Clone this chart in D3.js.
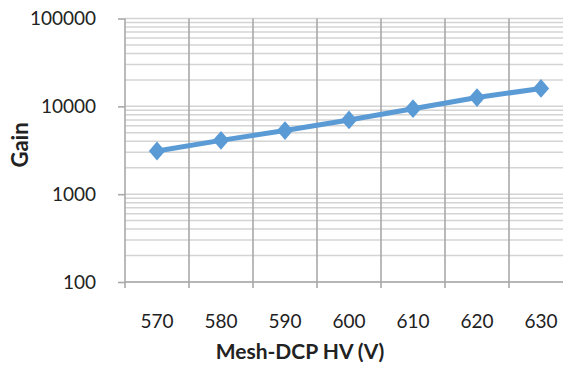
<!DOCTYPE html>
<html><head><meta charset="utf-8">
<script src="https://cdn.jsdelivr.net/npm/d3@7"></script>
<style>html,body{margin:0;padding:0;background:#fff;overflow:hidden}</style>
</head><body>
<svg id="c" width="563" height="365"></svg>
<script>
const categories = ["570","580","590","600","610","620","630"];
const gain = [3100, 4100, 5300, 7000, 9400, 12600, 16000];
const yTicks = [100, 1000, 10000, 100000];

(function () {
const svg = d3.select("#c");
const pl = 125, pr = 573, pt = 18.5, pb = 282;
const x = d3.scaleBand().domain(categories).range([pl, pr]);
const y = d3.scaleLog().domain([100, 100000]).range([pb, pt]);
const font = "Lato, 'Open Sans', sans-serif";

// minor horizontal gridlines
const minor = [];
for (let d = 100; d < 100000; d *= 10) for (let k = 1; k <= 9; k++) minor.push(d * k);
minor.push(100000);
svg.append("g").selectAll("line").data(minor).join("line")
  .attr("x1", pl).attr("x2", pr)
  .attr("y1", d => y(d)).attr("y2", d => y(d))
  .attr("stroke", "#d4d4d4").attr("stroke-width", 1.5);

// vertical gridlines (category boundaries)
const bounds = categories.map(c => x(c)).concat([x(categories[categories.length-1]) + x.bandwidth()]);
svg.append("g").selectAll("line").data(bounds.slice(1)).join("line")
  .attr("x1", d => d).attr("x2", d => d)
  .attr("y1", pt).attr("y2", pb + 6)
  .attr("stroke", "#a9a9a9").attr("stroke-width", 1.6);

// y axis
const yAxis = d3.axisLeft(y).tickValues(yTicks).tickFormat(d3.format("d")).tickSize(7).tickPadding(22);
const ga = svg.append("g").attr("transform", `translate(${pl},0)`).call(yAxis);
ga.select(".domain").attr("stroke", "#a9a9a9").attr("stroke-width", 1.6).attr("d", `M0,${pt}V${pb}`);
ga.selectAll(".tick line").attr("stroke", "#a9a9a9").attr("stroke-width", 1.6);
ga.selectAll(".tick text").attr("font-family", font).attr("font-size", 19).attr("fill", "#222");

// x axis
const xAxis = d3.axisBottom(x).tickSize(0).tickPadding(33);
const gx = svg.append("g").attr("transform", `translate(0,${pb})`).call(xAxis);
gx.select(".domain").attr("stroke", "#a9a9a9").attr("stroke-width", 1.6).attr("d", `M${pl},0H${pr}`);
gx.selectAll(".tick text").attr("font-family", font).attr("font-size", 19).attr("fill", "#222");
svg.append("line").attr("x1", pl).attr("x2", pl).attr("y1", pb).attr("y2", pb + 6)
  .attr("stroke", "#a9a9a9").attr("stroke-width", 1.6);

// line
const cx = c => x(c) + x.bandwidth() / 2;
const pts = categories.map((c, i) => [cx(c), y(gain[i])]);
svg.append("path").attr("d", d3.line()(pts)).attr("fill", "none")
  .attr("stroke", "#5b9bd5").attr("stroke-width", 5).attr("stroke-linejoin", "round");
svg.append("g").selectAll("path").data(pts).join("path")
  .attr("transform", d => `translate(${d[0]},${d[1]}) scale(1,1.15)`)
  .attr("d", d3.symbol(d3.symbolDiamond2, 170))
  .attr("fill", "#5b9bd5");

// axis titles
svg.append("text").attr("x", 300).attr("y", 359).attr("text-anchor", "middle")
  .attr("font-family", font).attr("font-weight", "bold").attr("font-size", 21)
  .attr("fill", "#222").text("Mesh-DCP HV (V)");
svg.append("text").attr("transform", "translate(28,145) rotate(-90)").attr("text-anchor", "middle")
  .attr("font-family", font).attr("font-weight", "bold").attr("font-size", 22)
  .attr("fill", "#222").text("Gain");
})();
</script>
</body></html>
